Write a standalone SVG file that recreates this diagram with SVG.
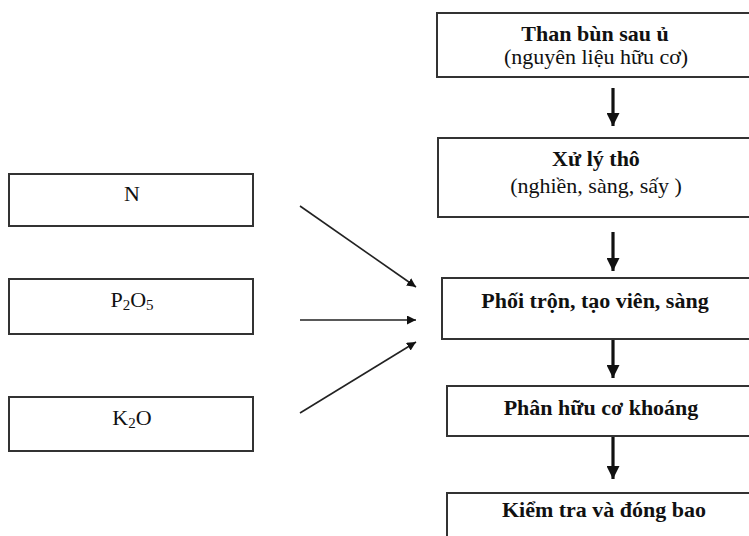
<svg xmlns="http://www.w3.org/2000/svg" width="749" height="536" viewBox="0 0 749 536">
<style>
.box{fill:#fff;stroke:#333;stroke-width:2}
.t{font-family:"Liberation Serif","Times New Roman",serif;font-size:22px;fill:#111;text-anchor:middle}
.b{font-weight:bold}
.s{font-size:15px}
.ln{stroke:#222;stroke-width:1.6;fill:none}
.vl{stroke:#111;stroke-width:3.2;fill:none}
</style>
<defs>
<marker id="ah" viewBox="0 0 10 10" refX="10" refY="5" markerWidth="9" markerHeight="9" markerUnits="userSpaceOnUse" orient="auto">
<path d="M0,0 L10,5 L0,10 z" fill="#111"/>
</marker>
<marker id="ah2" viewBox="0 0 10 10" refX="10" refY="5" markerWidth="13" markerHeight="13" markerUnits="userSpaceOnUse" orient="auto">
<path d="M0,0 L10,5 L0,10 z" fill="#111"/>
</marker>
</defs>
<rect width="749" height="536" fill="#fff"/>
<g id="n1"><rect class="box" x="437" y="13" width="320" height="64"/>
<text class="t b" x="595" y="41">Than bùn sau ủ</text>
<text class="t" x="596" y="64">(nguyên liệu hữu cơ)</text></g>
<g id="n2"><rect class="box" x="438" y="138" width="320" height="79"/>
<text class="t b" x="596" y="166">Xử lý thô</text>
<text class="t" x="596" y="193">(nghiền, sàng, sấy )</text></g>
<g id="n3"><rect class="box" x="442" y="278" width="320" height="61"/>
<text class="t b" x="595" y="308">Phối trộn, tạo viên, sàng</text></g>
<g id="n4"><rect class="box" x="447" y="386" width="320" height="50"/>
<text class="t b" x="601" y="415">Phân hữu cơ khoáng</text></g>
<g id="n5"><rect class="box" x="447" y="493" width="320" height="60"/>
<text class="t b" x="604" y="517">Kiểm tra và đóng bao</text></g>
<g id="nN"><rect class="box" x="9" y="174" width="244" height="52"/>
<text class="t" x="132" y="201">N</text></g>
<g id="nP"><rect class="box" x="9" y="279" width="244" height="55"/>
<text class="t" x="132" y="307">P<tspan class="s" dy="3">2</tspan><tspan dy="-3">O</tspan><tspan class="s" dy="3">5</tspan></text></g>
<g id="nK"><rect class="box" x="9" y="397" width="244" height="54"/>
<text class="t" x="132" y="425">K<tspan class="s" dy="3">2</tspan><tspan dy="-3">O</tspan></text></g>
<g id="connectors">
<line class="ln" x1="300" y1="206" x2="416" y2="287" marker-end="url(#ah)"/>
<line class="ln" x1="300" y1="320" x2="416" y2="320" marker-end="url(#ah)"/>
<line class="ln" x1="300" y1="413" x2="416" y2="342" marker-end="url(#ah)"/>
<line class="vl" x1="613" y1="88" x2="613" y2="126" marker-end="url(#ah2)"/>
<line class="vl" x1="613" y1="232" x2="613" y2="271" marker-end="url(#ah2)"/>
<line class="vl" x1="613" y1="340" x2="613" y2="378" marker-end="url(#ah2)"/>
<line class="vl" x1="613" y1="437" x2="613" y2="479" marker-end="url(#ah2)"/>
</g>
</svg>
